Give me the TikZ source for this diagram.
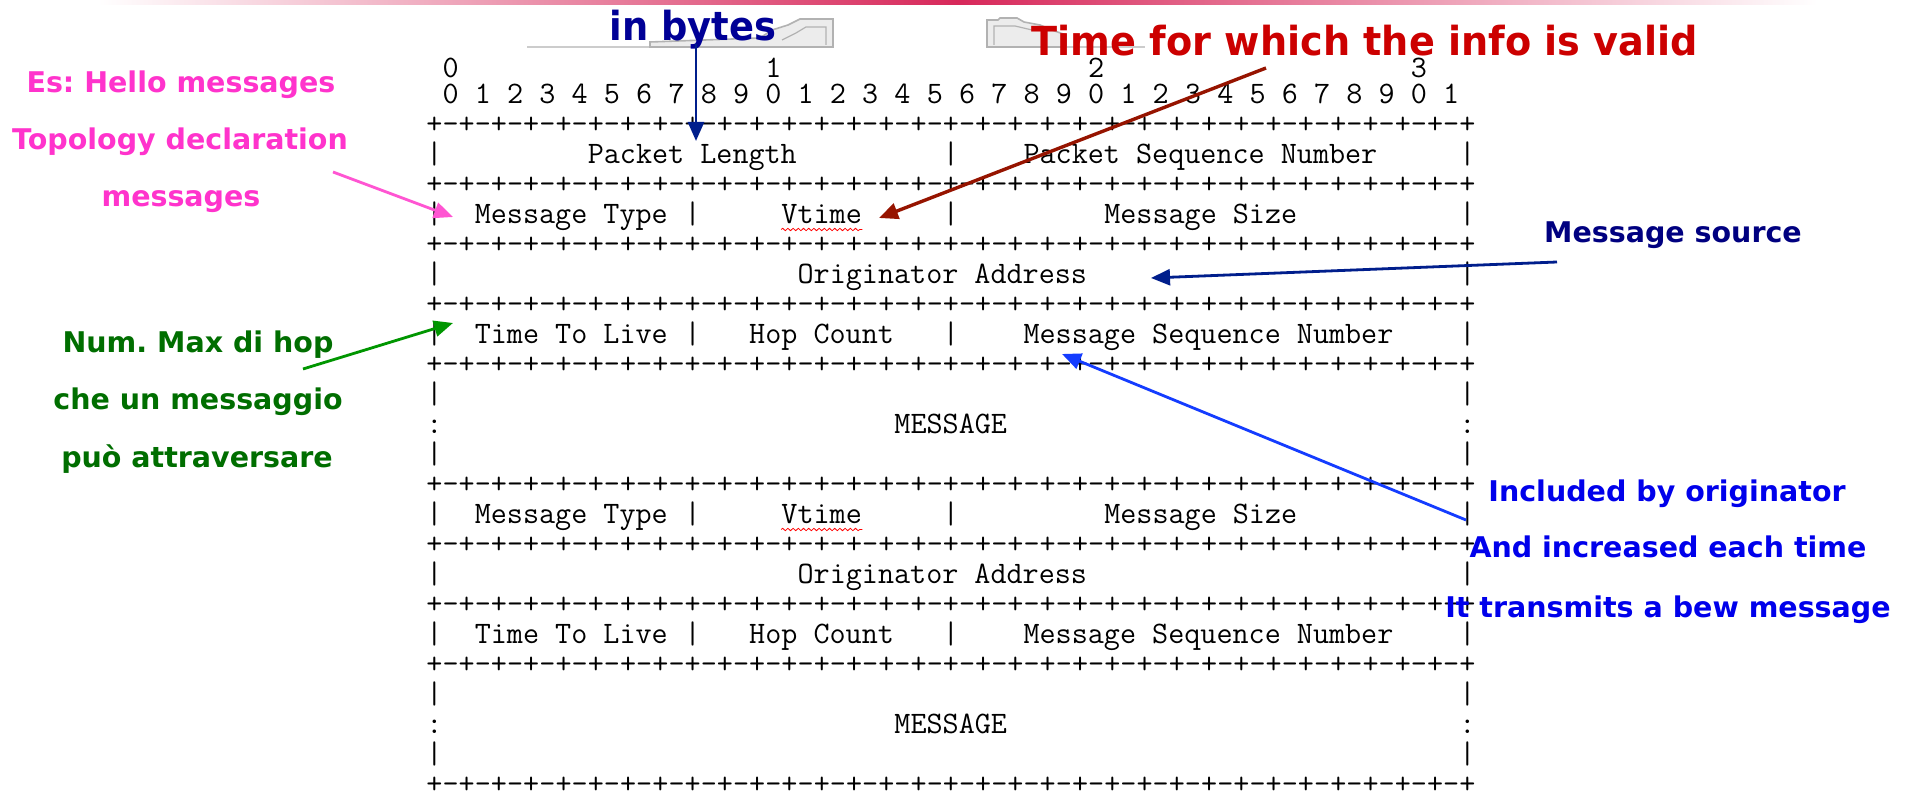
\documentclass[tikz,border=0pt]{standalone}
\usepackage{fontspec}
\usetikzlibrary{arrows.meta,decorations.pathmorphing}
\newfontfamily\annfont{DejaVu Sans}
\newfontfamily\condfont{DejaVu Sans}[FakeStretch=0.92]
\newfontfamily\condfontb{DejaVu Sans}[FakeStretch=0.955]
\definecolor{barc}{RGB}{215,40,90}
\definecolor{pinkt}{RGB}{255,51,204}
\definecolor{pinka}{RGB}{255,85,210}
\definecolor{greent}{RGB}{0,110,0}
\definecolor{greena}{RGB}{0,150,0}
\definecolor{navyt}{RGB}{0,0,150}
\definecolor{navya}{RGB}{0,30,140}
\definecolor{srct}{RGB}{0,0,128}
\definecolor{redt}{RGB}{204,0,0}
\definecolor{reda}{RGB}{150,20,0}
\definecolor{bluet}{RGB}{0,0,235}
\definecolor{bluea}{RGB}{20,60,255}
% piece of the ASCII grid: name, column, line, text
\newcommand\pc[4]{\node[mono] (#1) at ({426+16.14*(#2)},{73.5+30.0*(#3)}) {#4};}
\begin{document}
\begin{tikzpicture}[x=0.5pt,y=-0.5pt,
  mono/.style={font=\ttfamily\fontsize{15.61pt}{18pt}\selectfont, inner sep=0pt, anchor=base west},
  ann/.style={font=\annfont\bfseries\fontsize{14.25pt}{17pt}\selectfont\frenchspacing, inner sep=0pt, anchor=base},
  big/.style={font=\condfont\bfseries\fontsize{20pt}{24pt}\selectfont, inner sep=0pt, anchor=base},
  bigb/.style={font=\condfontb\bfseries\fontsize{20pt}{24pt}\selectfont, inner sep=0pt, anchor=base},
  arr/.style={-{Triangle[length=9.5pt,width=8pt]}, line width=1.4pt},
  ghost/.style={draw=gray!60, fill=gray!15, line width=0.8pt},
  wavy/.style={red, line width=0.4pt, decorate, decoration={snake, amplitude=0.6pt, segment length=2.6pt}}]
\useasboundingbox (0,0) rectangle (1912,796);
\fill[white] (0,0) rectangle (1912,796);
% top gradient bar
\shade[left color=white, right color=white, middle color=barc] (98,0) rectangle (1817,5);
% grey remnants
\draw[gray!40, line width=0.8pt] (527,47) -- (650,47);
\draw[ghost] (650,47) -- (650,42) -- (760,38) -- (772,30) -- (788,25) -- (800,19) -- (833,19) -- (833,47) -- cycle;
\draw[gray!60, line width=0.6pt] (782,40) -- (796,33) -- (806,27) -- (826,27) -- (826,45);
\draw[ghost] (987,47) -- (987,20) -- (998,20) -- (1000,18) -- (1017,18) -- (1024,22) -- (1040,25) -- (1052,30) -- (1066,35) -- (1066,47) -- cycle;
\draw[gray!60, line width=0.6pt] (994,45) -- (994,26) -- (1015,26) -- (1032,30);
\draw[gray!40, line width=0.8pt] (1066,47) -- (1145,47);
% bit numbering
\node[mono] (b0) at ({426+16.14*1},78) {0};
\node[mono] (b1) at ({426+16.14*21},78) {1};
\node[mono] (b2) at ({426+16.14*41},78) {2};
\node[mono] (b3) at ({426+16.14*61},78) {3};
\foreach \k in {0,...,31}{
  \pgfmathtruncatemacro\dig{mod(\k,10)}
  \pc{bit\k}{2*\k+1}{1}{\dig}
}
% separator rows
\foreach \i in {2,4,6,8,10,14,16,18,20,24}{
  \foreach \c in {0,2,...,64}{\pc{p\i-\c}{\c}{\i}{+}}
  \foreach \c in {1,3,...,63}{\pc{m\i-\c}{\c}{\i}{-}}
}
% row: packet length
\pc{v3a}{0}{3}{|}\pc{v3b}{32}{3}{|}\pc{v3c}{64}{3}{|}
\pc{pl}{10}{3}{Packet Length}
\pc{psn}{37}{3}{Packet Sequence Number}
% two message headers
\foreach \r/\s in {0/a,10/b}{
  \pc{v5a\s}{0}{5+\r}{|}\pc{v5b\s}{16}{5+\r}{|}\pc{v5c\s}{32}{5+\r}{|}\pc{v5d\s}{64}{5+\r}{|}
  \pc{mt\s}{3}{5+\r}{Message Type}
  \pc{vt\s}{22}{5+\r}{Vtime}
  \pc{ms\s}{42}{5+\r}{Message Size}
  \draw[wavy] ([yshift=-3pt]vt\s.base west) -- ([yshift=-3pt]vt\s.base east);
  \pc{v7a\s}{0}{7+\r}{|}\pc{v7b\s}{64}{7+\r}{|}
  \pc{oa\s}{23}{7+\r}{Originator Address}
  \pc{v9a\s}{0}{9+\r}{|}\pc{v9b\s}{16}{9+\r}{|}\pc{v9c\s}{32}{9+\r}{|}\pc{v9d\s}{64}{9+\r}{|}
  \pc{ttl\s}{3}{9+\r}{Time To Live}
  \pc{hc\s}{20}{9+\r}{Hop Count}
  \pc{msn\s}{37}{9+\r}{Message Sequence Number}
  \pc{v11a\s}{0}{11+\r}{|}\pc{v11b\s}{64}{11+\r}{|}
  \pc{c12a\s}{0}{12+\r}{:}\pc{c12b\s}{64}{12+\r}{:}
  \pc{msg\s}{29}{12+\r}{MESSAGE}
  \pc{v13a\s}{0}{13+\r}{|}\pc{v13b\s}{64}{13+\r}{|}
}
% annotations
\node[big, text=navyt] (inbytes) at (693,41) {in bytes};
\node[bigb, text=redt] (valid) at (1365,56) {Time for which the info is valid};
\node[ann, text=pinkt] (es1) at (181,93) {Es: Hello messages};
\node[ann, text=pinkt] (es2) at (180,150) {Topology declaration};
\node[ann, text=pinkt] (es3) at (181,207) {messages};
\node[ann, text=greent] (gr1) at (198,353) {Num. Max di hop};
\node[ann, text=greent] (gr2) at (198,410) {che un messaggio};
\node[ann, text=greent] (gr3) at (197,468) {può attraversare};
\node[ann, text=srct] (src) at (1673,243) {Message source};
\node[ann, text=bluet] (bl1) at (1667,502) {Included by originator};
\node[ann, text=bluet] (bl2) at (1668,558) {And increased each time};
\node[ann, text=bluet] (bl3) at (1668,617) {It transmits a bew message};
% arrow end points
\coordinate (pinkS) at (333,172);  \coordinate (pinkT) at (453,217);
\coordinate (greenS) at (303,369); \coordinate (greenT) at (453,323);
\coordinate (bytesS) at (696,44);  \coordinate (bytesT) at (696,141);
\coordinate (validS) at (1266,68); \coordinate (validT) at (879,218);
\coordinate (srcS) at (1557,262);  \coordinate (srcT) at (1151,278);
\coordinate (blueS) at (1466,520); \coordinate (blueT) at (1062,354);
% arrows
\draw[arr, pinka] (pinkS) -- (pinkT);
\draw[arr, greena] (greenS) -- (greenT);
\draw[arr, navya] (bytesS) -- (bytesT);
\draw[arr, reda, line width=1.7pt] (validS) -- (validT);
\draw[arr, navya] (srcS) -- (srcT);
\draw[arr, bluea] (blueS) -- (blueT);
\end{tikzpicture}
\end{document}
